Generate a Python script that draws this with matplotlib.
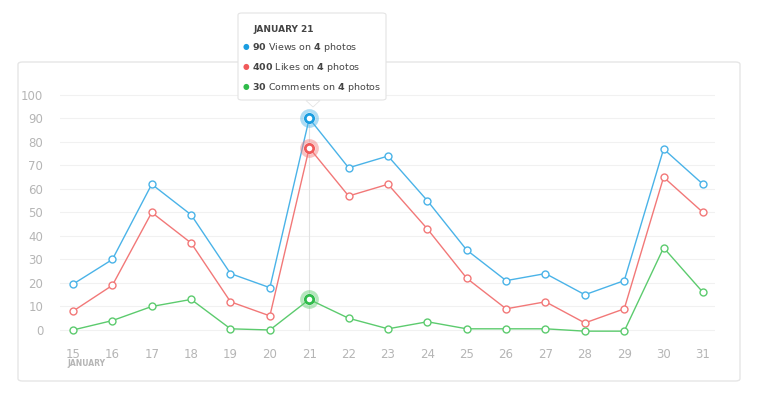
import matplotlib
matplotlib.use("Agg")
import matplotlib.pyplot as plt
from matplotlib.patches import FancyBboxPatch, Polygon

days = list(range(15, 32))
views = [19.5, 30, 62, 49, 24, 18, 90, 69, 74, 55, 34, 21, 24, 15, 21, 77, 62]
likes = [8, 19, 50, 37, 12, 6, 77.5, 57, 62, 43, 22, 9, 12, 3, 9, 65, 50]
comments = [0, 4, 10, 13, 0.5, 0, 13, 5, 0.5, 3.5, 0.5, 0.5, 0.5, -0.5, -0.5, 35, 16]
yticks = list(range(0, 101, 10))
colors = {"views": "#4ab3e8", "likes": "#f27878", "comments": "#5ccb6e"}
dots = {"views": "#1a9de0", "likes": "#f05a5a", "comments": "#2fbb4a"}
hi = 6

W, H = 759, 405
fig = plt.figure(figsize=(W/100, H/100), dpi=100)
fig.patch.set_facecolor("white")
card = FancyBboxPatch((18/W, (H-381)/H), 722/W, 319/H, boxstyle="round,pad=0,rounding_size=0.006",
                      transform=fig.transFigure, fc="white", ec="#e6e6e6", lw=1, zorder=-5)
fig.patches.append(card)

ax = fig.add_axes([60/W, (H-340)/H, 655/W, 250/H])
ax.set_zorder(1)
ax.set_xlim(14.67, 31.305)
ax.set_ylim(-4.26, 102.1)
ax.set_facecolor("none")
for s in ax.spines.values():
    s.set_visible(False)
ax.set_yticks(yticks)
ax.set_xticks(days)
ax.tick_params(length=0, colors="#b5b5b5", labelsize=8.5)
ax.tick_params(axis="y", pad=12)
ax.tick_params(axis="x", pad=6)
for t in yticks:
    ax.axhline(t, color="#f1f1f1", lw=0.8, zorder=0)
ax.axvline(days[hi], ymin=(0+4.26)/106.36, ymax=(90+4.26)/106.36, color="#e2e2e2", lw=0.8, zorder=1)

for key, vals in [("views", views), ("likes", likes), ("comments", comments)]:
    ax.plot(days, vals, color=colors[key], lw=1, zorder=2, marker="o", ms=5,
            mfc="white", mec=colors[key], mew=1)
    ax.plot(days[hi], vals[hi], "o", ms=11, mfc="none", mec=colors[key], mew=2.5, alpha=0.45, zorder=3)
    ax.plot(days[hi], vals[hi], "o", ms=6, mfc="white", mec=dots[key], mew=2, zorder=4)

fig.text(67/W, 1-364/H, "JANUARY", fontsize=5.5, color="#b5b5b5", weight="bold", va="center")

# tooltip
tip = FancyBboxPatch((238/W, (H-100)/H), 148/W, 87/H, boxstyle="round,pad=0,rounding_size=0.005",
                     transform=fig.transFigure, fc="white", ec="#e4e4e4", lw=0.8, zorder=10)
fig.patches.append(tip)
tri = Polygon([(306/W, (H-100.5)/H), (320/W, (H-100.5)/H), (313/W, (H-107)/H)], closed=True,
              transform=fig.transFigure, fc="white", ec="#e4e4e4", lw=0.6, zorder=11)
fig.patches.append(tri)
fig.text(253/W, 1-29/H, "JANUARY 21", fontsize=6.5, weight="bold", color="#444444", va="center", zorder=12)
rows = [("views", "90", " Views on ", "4", " photos"),
        ("likes", "400", " Likes on ", "4", " photos"),
        ("comments", "30", " Comments on ", "4", " photos")]
for i, (k, a, b, c, d) in enumerate(rows):
    y = 1 - (47 + 20*i)/H
    fig.text(243/W, y, "●", fontsize=5.5, color=dots[k], va="center", zorder=12)
    fig.text(252/W, y, r"$\bf{" + a + "}$" + b + r"$\bf{" + c + "}$" + d,
             fontsize=6.8, color="#444444", va="center", zorder=12)

fig.savefig("out.png", dpi=100)
